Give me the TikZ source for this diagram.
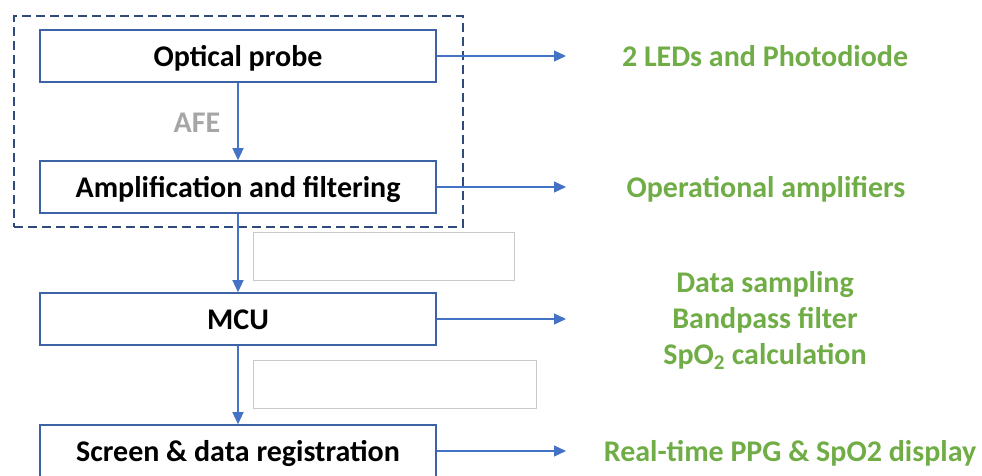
\documentclass[tikz,border=0pt]{standalone}
\usepackage{fontspec}
\setmainfont{Carlito}
\usetikzlibrary{arrows.meta,positioning}
\definecolor{cBlueD}{HTML}{3D62A6}
\definecolor{cBlueL}{HTML}{4472C4}
\definecolor{cNavyD}{HTML}{2F4B7C}
\definecolor{cGreenT}{HTML}{70AD47}
\definecolor{cGrayT}{HTML}{A6A6A6}
\definecolor{cGrayD}{HTML}{C9C9C9}
\tikzset{
  stage/.style  = {draw=cBlueD, line width=1.6pt, fill=white, inner sep=0pt,
                   minimum width=396pt, minimum height=52pt,
                   text height=21pt, text depth=0pt,
                   font=\fontsize{30}{36}\selectfont\bfseries},
  afe/.style    = {draw=cNavyD, line width=2pt, dash pattern=on 9pt off 5pt,
                   inner sep=0pt, minimum width=449pt, minimum height=211pt},
  blank/.style  = {draw=cGrayD, line width=0.8pt, inner sep=0pt, minimum height=48pt},
  note/.style   = {text=cGreenT, align=center, inner sep=0pt,
                   text height=21pt, text depth=0pt,
                   font=\fontsize{30}{36}\selectfont\bfseries},
  afelbl/.style = {text=cGrayT, inner sep=0pt, font=\fontsize{30}{36}\selectfont\bfseries},
  flow/.style   = {cBlueL, line width=1.3pt, -{Triangle[length=12pt,width=11pt]}},
  side/.style   = {cBlueL, line width=1.3pt, -{Triangle[length=12pt,width=11pt]}},
}
\begin{document}
\begin{tikzpicture}[x=1pt, y=-1pt]
  \useasboundingbox (0,0) rectangle (982,475);
  \clip (0,0) rectangle (982,475);
  % analog front end
  \node[afe] (afebox) at (238.5,121.5) {};
  \node[afelbl] (afetxt) at (197,123) {AFE};
  % processing chain
  \node[stage] (probe)  at (238,56)  {Optical probe};
  \node[stage] (amp)    at (238,187) {Amplification and filtering};
  \node[stage] (mcu)    at (238,319) {MCU};
  \node[stage] (screen) at (238,451) {Screen \& data registration};
  % empty frames
  \node[blank, minimum width=261pt] (gapA) at (383.5,256) {};
  \node[blank, minimum width=283pt] (gapB) at (394.5,384) {};
  \draw[flow] (probe) -- (amp);
  \draw[flow] (amp) -- (mcu);
  \draw[flow] (mcu) -- (screen);
  % what each stage is made of
  \coordinate (tipx) at (566,0);
  \node[note] (leds)   at (765,56)  {2 LEDs and Photodiode};
  \node[note] (opamps) at (766,187) {Operational amplifiers};
  \node[note] (dsp)    at (765,354) {Data sampling\\Bandpass filter\\SpO\textsubscript{2} calculation};
  \node[note] (disp)   at (790,451) {Real-time PPG \& SpO2 display};
  \draw[side] (probe.east)  -- (probe.east -| tipx);
  \draw[side] (amp.east)    -- (amp.east -| tipx);
  \draw[side] (mcu.east)    -- (mcu.east -| tipx);
  \draw[side] (screen.east) -- (screen.east -| tipx);
\end{tikzpicture}
\end{document}
